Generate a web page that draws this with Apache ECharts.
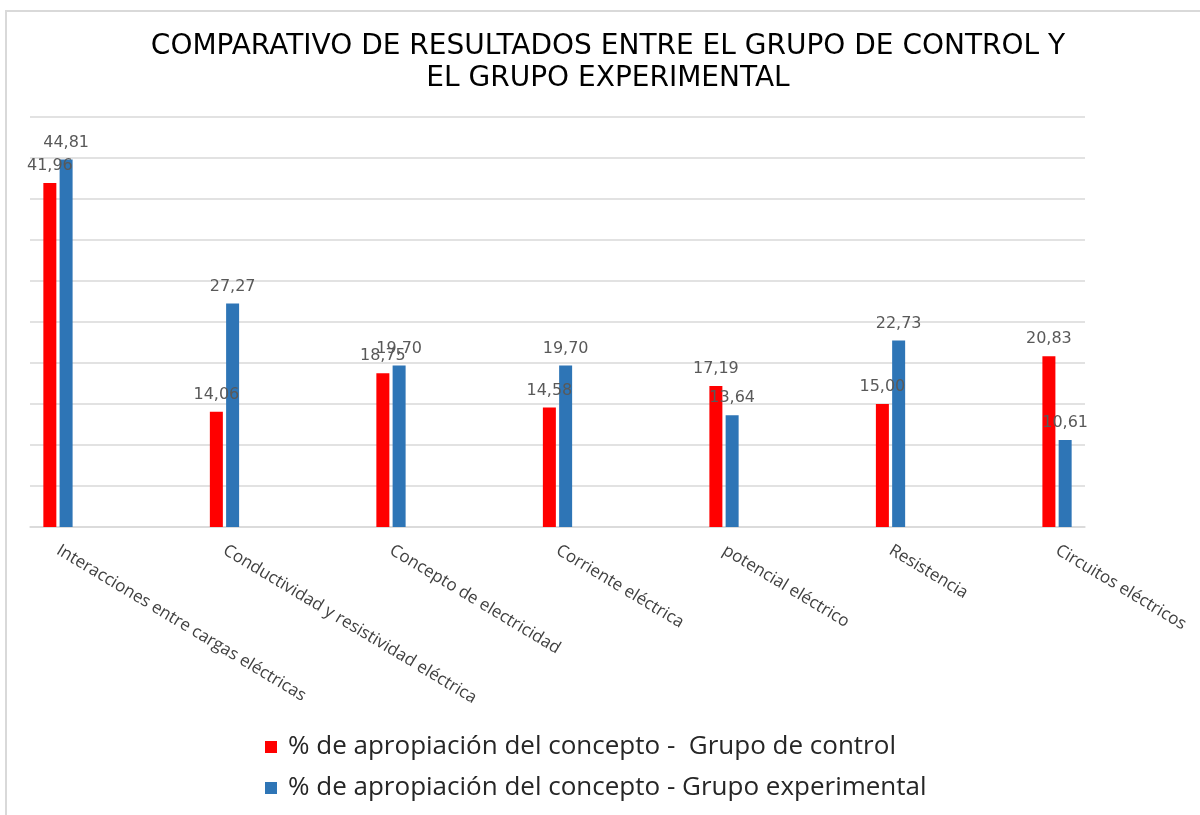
<!DOCTYPE html>
<html>
<head>
<meta charset="utf-8">
<script src="https://cdn.jsdelivr.net/npm/echarts@6/dist/echarts.min.js"></script>
<style>
  html, body { margin: 0; padding: 0; background: #fff; }
  #main { width: 1200px; height: 815px; }
</style>
</head>
<body>
<div id="main"></div>
<script>
// categories and values
var categories = [
  'Interacciones entre cargas eléctricas',
  'Conductividad y resistividad eléctrica',
  'Concepto de electricidad',
  'Corriente eléctrica',
  'potencial eléctrico',
  'Resistencia',
  'Circuitos eléctricos'
];
var controlValues = [41.96, 14.06, 18.75, 14.58, 17.19, 15.00, 20.83];
var experimentalValues = [44.81, 27.27, 19.70, 19.70, 13.64, 22.73, 10.61];
var seriesNames = [
  '% de apropiación del concepto -  Grupo de control',
  '% de apropiación del concepto - Grupo experimental'
];
var categoryTicks = [0, 1, 2, 3, 4, 5, 6];

function fmt(v) {
  return v.toFixed(2).replace('.', ',');
}

function pairs(values) {
  return values.map(function (v, i) { return [categoryTicks[i], v]; });
}

var myChart = echarts.init(document.getElementById('main'));

var labelStyle = {
  show: true,
  position: 'top',
  distance: 9,
  color: '#595959',
  fontFamily: 'DejaVu Sans',
  fontSize: 16,
  formatter: function (p) { return fmt(p.value[1]); }
};

var option = {
  animation: false,
  backgroundColor: '#fff',
  title: {
    text: 'COMPARATIVO DE RESULTADOS ENTRE EL GRUPO DE CONTROL Y\nEL GRUPO EXPERIMENTAL',
    left: 603,
    top: 26,
    textAlign: 'center',
    textStyle: {
      fontFamily: 'DejaVu Sans',
      fontWeight: 'normal',
      fontSize: 28,
      lineHeight: 32,
      align: 'center',
      color: '#000'
    }
  },
  legend: {
    orient: 'vertical',
    left: 260,
    top: 729,
    itemWidth: 12,
    itemHeight: 12,
    itemGap: 15,
    icon: 'rect',
    textStyle: {
      fontFamily: 'Open Sans',
      fontSize: 26,
      color: '#262626',
      padding: [0, 0, 0, 6]
    },
    data: seriesNames
  },
  grid: {
    left: 30,
    right: 115,
    top: 117,
    bottom: 288
  },
  xAxis: {
    type: 'value',
    min: -0.168,
    max: 6.168,
    splitLine: { show: false },
    axisTick: { show: false },
    axisLine: { show: true, lineStyle: { color: '#d9d9d9', width: 1.5 } },
    axisLabel: {
      customValues: categoryTicks,
      rotate: -31,
      margin: 22,
      color: '#404040',
      fontFamily: 'Open Sans',
      fontSize: 17,
      formatter: function (v) { return categories[Math.round(v)]; }
    }
  },
  yAxis: {
    type: 'value',
    min: 0,
    max: 50,
    interval: 5,
    axisLabel: { show: false },
    axisLine: { show: false },
    axisTick: { show: false },
    splitLine: { lineStyle: { color: '#d9d9d9', width: 1.5 } }
  },
  graphic: [{
    type: 'rect',
    shape: { x: 6, y: 11, width: 1210, height: 820 },
    style: { fill: 'none', stroke: '#d9d9d9', lineWidth: 2 },
    silent: true
  }],
  series: [
    {
      name: seriesNames[0],
      type: 'bar',
      barWidth: 13,
      barGap: '25%',
      itemStyle: { color: '#ff0000' },
      label: labelStyle,
      data: pairs(controlValues)
    },
    {
      name: seriesNames[1],
      type: 'bar',
      barWidth: 13,
      barGap: '25%',
      itemStyle: { color: '#2e75b6' },
      label: labelStyle,
      data: pairs(experimentalValues)
    }
  ]
};

myChart.setOption(option);
</script>
</body>
</html>
